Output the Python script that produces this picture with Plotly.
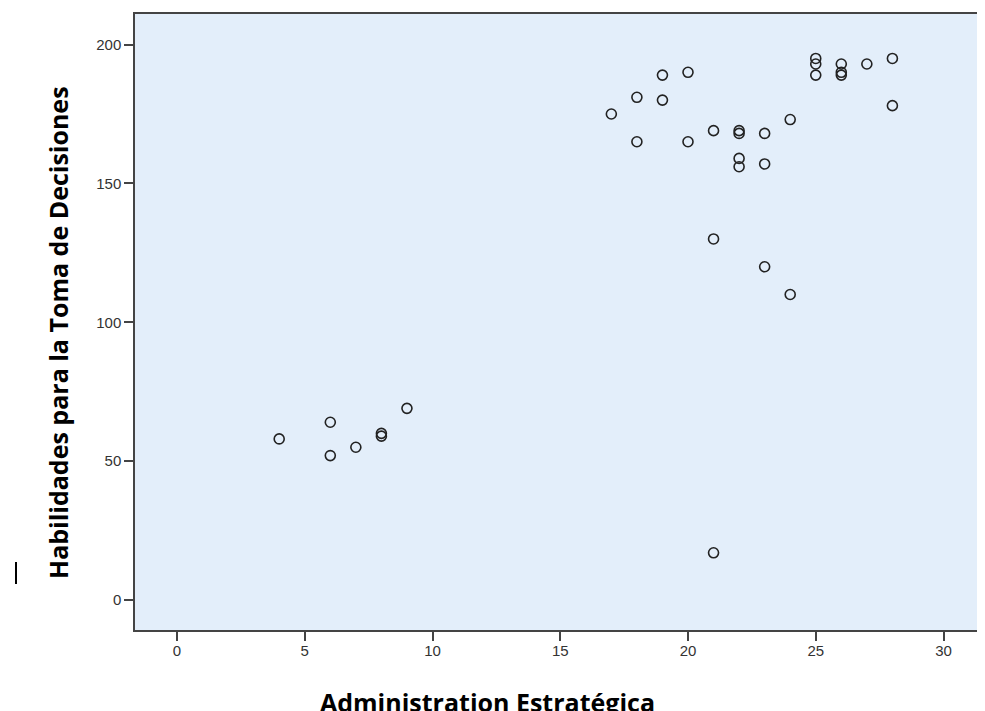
import plotly.graph_objects as go

admin_estrategica = [4, 6, 6, 7, 8, 8, 9,
                     17, 18, 18, 19, 19, 20, 20,
                     21, 21, 21, 22, 22, 22, 22,
                     23, 23, 23, 24, 24,
                     25, 25, 25, 26, 26, 26, 27, 28, 28]
habilidades = [58, 64, 52, 55, 60, 59, 69,
               175, 181, 165, 189, 180, 190, 165,
               169, 130, 17, 169, 168, 159, 156,
               168, 157, 120, 173, 110,
               195, 193, 189, 193, 190, 189, 193, 195, 178]

x_ticks = [0, 5, 10, 15, 20, 25, 30]
y_ticks = [0, 50, 100, 150, 200]
x_title = "Administration Estratégica"
y_title = "Habilidades para la Toma de Decisiones"

# page body has an 8px margin: window coords = figure coords + 8
OFF = 8
PL, PR, PT, PB = 135, 977, 14, 630  # plot area in window pixels
PW, PH = PR - PL, PB - PT


def px(xw):
    return (xw - PL) / PW


def py(yw):
    return (PB - yw) / PH


fig = go.Figure()
fig.add_trace(go.Scatter(
    x=admin_estrategica, y=habilidades, mode="markers",
    marker=dict(symbol="circle-open", size=10, color="#222222",
                line=dict(width=1.6, color="#222222")),
    showlegend=False, hoverinfo="x+y"))

axis_common = dict(showgrid=False, zeroline=False, showline=True,
                   linecolor="#444444", linewidth=1.5,
                   ticks="outside", ticklen=9, tickwidth=1.5, tickcolor="#444444",
                   tickfont=dict(family="Liberation Sans, Arial, sans-serif", size=15, color="#333333"))

W, H = 985 - 2 * OFF, 711 - OFF
fig.update_layout(
    width=W, height=H,
    margin=dict(l=PL - OFF, r=0, t=PT - OFF, b=H - (PB - OFF)),
    paper_bgcolor="white", plot_bgcolor="#e3eefa",
    xaxis=dict(range=[(PL - 177) / 25.55, (PR - 177) / 25.55], tickvals=x_ticks,
               mirror=True, ticklabelstandoff=-3, **axis_common),
    yaxis=dict(range=[-10.8, 211], tickvals=y_ticks, mirror=False, **axis_common),
)

fig.add_annotation(text=f"<b>{x_title}</b>", xref="paper", yref="paper",
                   x=px(487), y=py(683), xanchor="center", yanchor="top",
                   showarrow=False, font=dict(family="Open Sans, sans-serif", size=25, color="black"))
fig.add_annotation(text=f"<b>{y_title}</b>", xref="paper", yref="paper",
                   x=px(58), y=py(333), xanchor="center", yanchor="middle",
                   textangle=-90, showarrow=False,
                   font=dict(family="Open Sans, sans-serif", size=25, color="black"))
fig.add_shape(type="line", xref="paper", yref="paper",
              x0=px(16), x1=px(16), y0=py(562), y1=py(584),
              line=dict(color="black", width=2))

fig.write_html("out.html", post_script="document.body.style.overflow='hidden';")
